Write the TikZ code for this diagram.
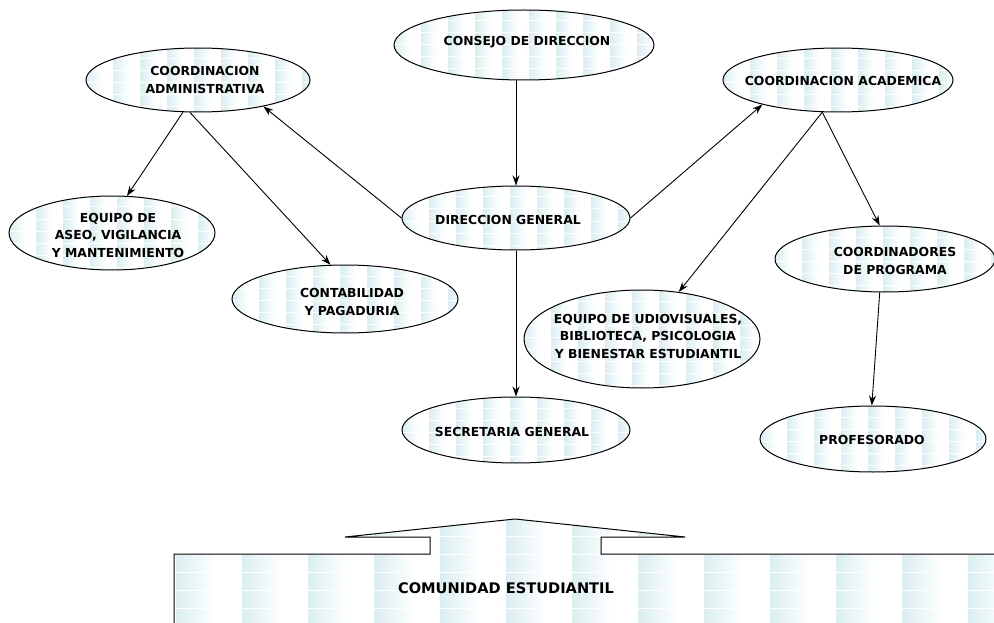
\documentclass[tikz,border=0pt]{standalone}
\usepackage{fontspec}
\setmainfont{DejaVu Sans}
\usetikzlibrary{shapes.geometric,arrows.meta}
\definecolor{tile}{RGB}{188,224,228}
\pgfdeclarehorizontalshading{tileshade}{100bp}{color(0bp)=(tile); color(55bp)=(white); color(100bp)=(white)}
\tikzset{
 tiled/.style={path picture={\foreach \i in {0,...,9}{\foreach \j in {0,...,8}{
   \shade[shading=tileshade] ([xshift=\i*27pt,yshift=-\j*12pt]path picture bounding box.north west) rectangle ++(27pt,-10pt);}}}},
 unit/.style={ellipse, draw, line width=1pt, tiled, inner sep=0pt},
 txt/.style={align=center, inner sep=0pt, font=\fontsize{12.4}{17.5}\selectfont\bfseries},
 conn/.style={line width=0.9pt, -{Stealth[length=10pt,width=7pt]}}
}
\begin{document}
\begin{tikzpicture}[x=1pt,y=-1pt]
\useasboundingbox (0,0) rectangle (994,623);
% ellipses
\node[unit, minimum width=260pt, minimum height=70pt] (cd) at (524,45) {};
\node[txt] (cdt) at (527,42) {CONSEJO DE DIRECCION};
\node[unit, minimum width=224pt, minimum height=64pt] (ca) at (198,80) {};
\node[txt] (cat) at (205,80) {COORDINACION\\ADMINISTRATIVA};
\node[unit, minimum width=230pt, minimum height=64pt] (cac) at (838,80) {};
\node[txt] (cact) at (843,81) {COORDINACION ACADEMICA};
\node[unit, minimum width=228pt, minimum height=64pt] (dg) at (516,218) {};
\node[txt] (dgt) at (508,220) {DIRECCION GENERAL};
\node[unit, minimum width=206pt, minimum height=74pt] (as) at (112,233) {};
\node[txt] (ast) at (118,235) {EQUIPO DE\\ASEO, VIGILANCIA\\Y MANTENIMIENTO};
\node[unit, minimum width=226pt, minimum height=68pt] (co) at (345,299) {};
\node[txt] (cot) at (352,302) {CONTABILIDAD\\Y PAGADURIA};
\node[unit, minimum width=220pt, minimum height=66pt] (cp) at (885,259) {};
\node[txt] (cpt) at (895,261) {COORDINADORES\\DE PROGRAMA};
\node[unit, minimum width=236pt, minimum height=98pt] (eq) at (642,339) {};
\node[txt] (eqt) at (648,336) {EQUIPO DE UDIOVISUALES,\\BIBLIOTECA, PSICOLOGIA\\Y BIENESTAR ESTUDIANTIL};
\node[unit, minimum width=228pt, minimum height=66pt] (sg) at (516,430) {};
\node[txt] (sgt) at (512,432) {SECRETARIA GENERAL};
\node[unit, minimum width=226pt, minimum height=66pt] (pr) at (873,439) {};
\node[txt] (prt) at (872,440) {PROFESORADO};
% connectors
\draw[conn] (cd.south -| dg.north) -- (dg.north);
\draw[conn] (dg.180) -- (ca.-22);
\draw[conn] (dg.0) -- (cac.198);
\draw[conn] (dg.south) -- (sg.north);
\draw[conn] (ca.-115) -- (as.68);
\draw[conn] (ca.-104) -- (co.113);
\draw[conn] (cac.-116) -- (eq.52);
\draw[conn] (cac.-116) -- (cp.99);
\draw[conn] (cp.-99) -- (pr.92);
% community shape
\begin{scope}
\clip (174,640) -- (174,554) -- (430,554) -- (430,537) -- (345,537) -- (515,519) -- (685,537) -- (601,537) -- (601,554) -- (1000,554) -- (1000,640) -- cycle;
\foreach \i in {0,...,12}{\foreach \j in {-2,...,4}{
  \shade[shading=tileshade] (176+\i*66,555+\j*18) rectangle ++(66pt,-16pt);}}
\end{scope}
\draw[line width=1pt] (174,640) -- (174,554) -- (430,554) -- (430,537) -- (345,537) -- (515,519) -- (685,537) -- (601,537) -- (601,554) -- (1000,554);
\node[txt, font=\fontsize{14.6}{17}\selectfont\bfseries] (ce) at (506,588) {COMUNIDAD ESTUDIANTIL};
\end{tikzpicture}
\end{document}
